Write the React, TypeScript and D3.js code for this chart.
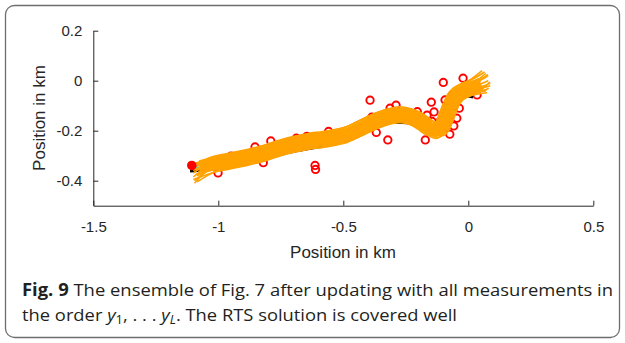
import React, { useEffect, useRef } from 'react'
import * as d3 from 'd3'

// axis ticks
const xTicks = [-1.5, -1, -0.5, 0, 0.5]
const yTicks = [0.2, 0, -0.2, -0.4]

// measurements (km)
const measurements: [number, number][] = [
  [-1.001, -0.369], [-0.949, -0.302], [-0.853, -0.265], [-0.82, -0.328],
  [-0.79, -0.241], [-0.688, -0.23], [-0.646, -0.223], [-0.613, -0.339],
  [-0.611, -0.355], [-0.559, -0.203], [-0.393, -0.078], [-0.386, -0.146],
  [-0.368, -0.207], [-0.322, -0.237], [-0.313, -0.11], [-0.289, -0.098],
  [-0.204, -0.124], [-0.165, -0.138], [-0.172, -0.237], [-0.148, -0.086],
  [-0.137, -0.125], [-0.145, -0.163], [-0.112, -0.161], [-0.1, -0.007],
  [-0.093, -0.077], [-0.063, -0.059], [-0.036, -0.11], [-0.046, -0.15],
  [-0.058, -0.181], [-0.074, -0.214], [-0.021, 0.01], [0.035, -0.057]
]

const startPoint: [number, number] = [-1.106, -0.339]

// true trajectory
const truth: [number, number][] = [
  [-1.113, -0.361], [-1.053, -0.357], [-0.953, -0.339], [-0.821, -0.309],
  [-0.693, -0.281], [-0.581, -0.261], [-0.485, -0.239], [-0.405, -0.201],
  [-0.325, -0.169], [-0.273, -0.167], [-0.225, -0.171], [-0.173, -0.193],
  [-0.141, -0.201], [-0.121, -0.173], [-0.097, -0.125], [-0.073, -0.081],
  [-0.049, -0.061], [-0.021, -0.059], [0.019, -0.065]
]

// RTS smoother solution
const rts: [number, number][] = [
  [-1.1, -0.35], [-0.95, -0.33], [-0.82, -0.3], [-0.7, -0.266],
  [-0.58, -0.246], [-0.485, -0.226], [-0.405, -0.19], [-0.325, -0.158],
  [-0.27, -0.15], [-0.22, -0.158], [-0.175, -0.18], [-0.14, -0.198],
  [-0.115, -0.185], [-0.09, -0.14], [-0.065, -0.09], [-0.04, -0.06],
  [0, -0.045], [0.03, -0.04]
]

// ensemble mean track
const ensembleMean: [number, number][] = [
  [-1.073, -0.343], [-1.013, -0.333], [-0.953, -0.321], [-0.885, -0.307],
  [-0.821, -0.291], [-0.753, -0.269], [-0.701, -0.255], [-0.641, -0.243],
  [-0.581, -0.235], [-0.525, -0.225], [-0.485, -0.215], [-0.441, -0.195],
  [-0.405, -0.177], [-0.365, -0.159], [-0.325, -0.145], [-0.285, -0.137],
  [-0.249, -0.139], [-0.213, -0.151], [-0.181, -0.171], [-0.153, -0.191],
  [-0.129, -0.199], [-0.109, -0.189], [-0.093, -0.157], [-0.077, -0.113],
  [-0.061, -0.077], [-0.041, -0.053], [-0.013, -0.037], [0.019, -0.025],
  [0.051, -0.013]
]

// member offsets from the mean, and their first / last points
const memberShift: [number, number][] = [
  [0, 0.032], [0.022, 0.022], [0.032, 0], [0.022, -0.022],
  [0, -0.032], [-0.022, -0.022], [-0.032, 0], [-0.022, 0.022],
  [0.011, 0.016], [-0.015, 0.008], [0.015, -0.01], [-0.008, -0.015],
  [0.004, 0.002], [0.016, 0.027], [-0.027, -0.012], [0.027, -0.015],
  [-0.012, 0.027], [0.006, -0.028]
]
const memberStart: [number, number][] = [
  [-1.09, -0.33], [-1.085, -0.335], [-1.095, -0.34], [-1.09, -0.355],
  [-1.1, -0.395], [-1.095, -0.41], [-1.1, -0.37], [-1.09, -0.345],
  [-1.08, -0.35], [-1.1, -0.36], [-1.085, -0.38], [-1.095, -0.4],
  [-1.08, -0.365], [-1.085, -0.33], [-1.1, -0.385], [-1.09, -0.375],
  [-1.095, -0.335], [-1.085, -0.405]
]
const memberEnd: [number, number][] = [
  [0.065, 0.035], [0.08, 0.02], [0.088, -0.01], [0.082, -0.03],
  [0.075, -0.048], [0.06, -0.04], [0.05, 0.0], [0.055, 0.04],
  [0.078, 0.025], [0.06, 0.012], [0.088, -0.02], [0.07, -0.042],
  [0.08, 0.0], [0.07, 0.03], [0.065, -0.022], [0.086, -0.005],
  [0.06, 0.03], [0.074, -0.035]
]

const W = 625
const H = 343

export default function App() {
  const ref = useRef<SVGSVGElement>(null)

  useEffect(() => {
    const svg = d3.select(ref.current)
    svg.selectAll('*').remove()

    const x = d3.scaleLinear().domain([-1.5, 0.5]).range([93.3, 593.3])
    const y = d3.scaleLinear().domain([-0.5, 0.2]).range([205.7, 30.7])

    // card
    svg.append('rect')
      .attr('x', 5.5).attr('y', 5.5)
      .attr('width', 614).attr('height', 332)
      .attr('rx', 9)
      .attr('fill', '#fff')
      .attr('stroke', '#6d6e71')
      .attr('stroke-width', 1.3)

    const line = d3.line<[number, number]>()
      .x(d => x(d[0]))
      .y(d => y(d[1]))
      .curve(d3.curveCatmullRom)

    const plot = svg.append('g')

    // measurements
    plot.selectAll('circle.meas')
      .data(measurements)
      .enter()
      .append('circle')
      .attr('class', 'meas')
      .attr('cx', d => x(d[0]))
      .attr('cy', d => y(d[1]))
      .attr('r', 3.7)
      .attr('fill', 'none')
      .attr('stroke', '#ff0000')
      .attr('stroke-width', 1.9)

    plot.append('path')
      .attr('d', line(truth))
      .attr('fill', 'none')
      .attr('stroke', '#000')
      .attr('stroke-width', 3)

    plot.append('path')
      .attr('d', line(rts))
      .attr('fill', 'none')
      .attr('stroke', '#00e5e5')
      .attr('stroke-width', 2)

    // ensemble band core
    plot.append('path')
      .attr('d', line(ensembleMean))
      .attr('fill', 'none')
      .attr('stroke', '#ffa500')
      .attr('stroke-width', 13)
      .attr('stroke-linejoin', 'round')

    const members = memberShift.map((s, i) => [
      memberStart[i],
      ...ensembleMean.slice(1, -1).map(p => [p[0] + s[0], p[1] + s[1]] as [number, number]),
      memberEnd[i]
    ])

    plot.selectAll('path.member')
      .data(members)
      .enter()
      .append('path')
      .attr('class', 'member')
      .attr('d', d => line(d as [number, number][]))
      .attr('fill', 'none')
      .attr('stroke', '#ffa200')
      .attr('stroke-width', 1.5)

    plot.append('circle')
      .attr('cx', x(startPoint[0]))
      .attr('cy', y(startPoint[1]))
      .attr('r', 4.8)
      .attr('fill', '#ff0000')

    // axes
    const xAxis = d3.axisBottom(x)
      .tickValues(xTicks)
      .tickFormat(d => String(d))
      .tickSizeInner(-5)
      .tickSizeOuter(0)
      .tickPadding(16)

    const yAxis = d3.axisLeft(y)
      .tickValues(yTicks)
      .tickFormat(d => String(d))
      .tickSizeInner(-5)
      .tickSizeOuter(0)
      .tickPadding(11)

    const gx = svg.append('g')
      .attr('transform', `translate(0, ${y(-0.5)})`)
      .call(xAxis)
    const gy = svg.append('g')
      .attr('transform', `translate(${x(-1.5)}, 0)`)
      .call(yAxis)

    ;[gx, gy].forEach(g => {
      g.attr('font-family', '"Liberation Sans", Arial, sans-serif')
        .attr('font-size', 15)
      g.selectAll('path, line').attr('stroke', '#262626')
      g.selectAll('text').attr('fill', '#262626')
    })

    svg.append('text')
      .attr('x', 343)
      .attr('y', 258)
      .attr('text-anchor', 'middle')
      .attr('font-family', '"Liberation Sans", Arial, sans-serif')
      .attr('font-size', 17)
      .attr('fill', '#262626')
      .text('Position in km')

    svg.append('text')
      .attr('transform', `translate(45, 118) rotate(-90)`)
      .attr('text-anchor', 'middle')
      .attr('font-family', '"Liberation Sans", Arial, sans-serif')
      .attr('font-size', 17)
      .attr('fill', '#262626')
      .text('Position in km')

    // caption
    const cap1 = svg.append('text')
      .attr('x', 22)
      .attr('y', 296)
      .attr('font-family', '"Open Sans", "Noto Sans", sans-serif')
      .attr('font-size', 17)
      .attr('fill', '#231f20')
      .attr('textLength', 591)
      .attr('lengthAdjust', 'spacingAndGlyphs')
    cap1.append('tspan').attr('font-weight', 'bold').text('Fig. 9')
    cap1.append('tspan').text(' The ensemble of Fig. 7 after updating with all measurements in')

    const cap2 = svg.append('text')
      .attr('x', 22)
      .attr('y', 321)
      .attr('font-family', '"Open Sans", "Noto Sans", sans-serif')
      .attr('font-size', 17)
      .attr('fill', '#231f20')
      .attr('textLength', 435)
      .attr('lengthAdjust', 'spacingAndGlyphs')
    cap2.append('tspan').text('the order ')
    cap2.append('tspan').attr('font-style', 'italic').text('y')
    cap2.append('tspan').attr('font-size', 12).attr('dy', 3).text('1')
    cap2.append('tspan').attr('dy', -3).text(', . . . ')
    cap2.append('tspan').attr('font-style', 'italic').text('y')
    cap2.append('tspan').attr('font-size', 12).attr('font-style', 'italic').attr('dy', 3).text('L')
    cap2.append('tspan').attr('dy', -3).text('. The RTS solution is covered well')
  }, [])

  return (
    <svg
      ref={ref}
      width={W}
      height={H}
      style={{ position: 'absolute', left: 0, top: 0, background: '#fff' }}
    />
  )
}
